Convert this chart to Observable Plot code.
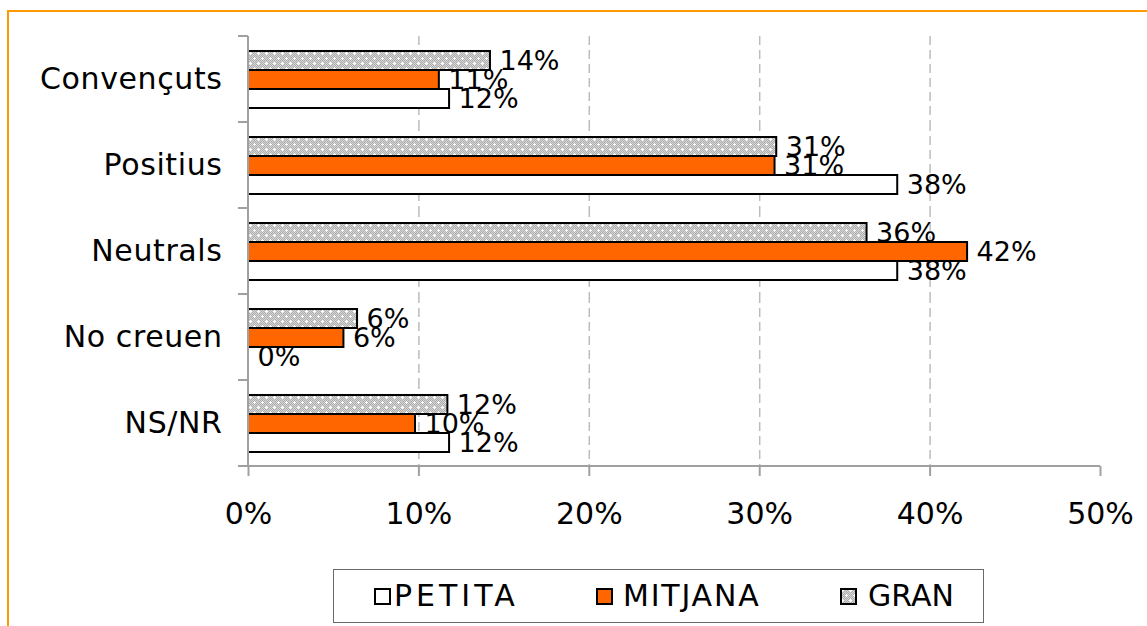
<!DOCTYPE html>
<html>
<head>
<meta charset="utf-8">
<script src="https://cdn.jsdelivr.net/npm/d3@7"></script>
<script src="https://cdn.jsdelivr.net/npm/@observablehq/plot@0.6"></script>
<style>
  html, body { margin: 0; padding: 0; background: #fff; overflow: hidden; width: 1147px; height: 626px; }
  body { position: relative; font-family: "DejaVu Sans", Verdana, sans-serif; }
  #frame { position: absolute; left: 7px; top: 10px; width: 1300px; height: 800px;
           border-left: 2px solid #FF9900; border-top: 2px solid #FF9900; pointer-events: none; z-index: 5; }
  #chart { position: absolute; left: 0; top: 0; }
  #legend { position: absolute; left: 333px; top: 569px; width: 649px; height: 52px;
            border: 1.5px solid #6a6a6a; background: #fff; }
  .item { position: absolute; top: 0; height: 52px; display: flex; align-items: center; }
  .item span { font-size: 30px; color: #000; line-height: 1; }
  .item svg { display: block; margin-right: 4px; }
</style>
</head>
<body>
<div id="frame"></div>
<div id="chart"></div>
<div id="legend"></div>
<script>
// ---- data ----
const categories = ["Convençuts", "Positius", "Neutrals", "No creuen", "NS/NR"];
const series = ["PETITA", "MITJANA", "GRAN"];
const petita  = [11.8, 38.1, 38.1, 0.0, 11.8];
const mitjana = [11.2, 30.9, 42.2, 5.6, 9.8];
const gran    = [14.2, 31.0, 36.3, 6.4, 11.7];
const xTicks = [0, 10, 20, 30, 40, 50];
const gridTicks = [10, 20, 30, 40];

const valuesBySeries = { PETITA: petita, MITJANA: mitjana, GRAN: gran };
const fillOf = { PETITA: "white", MITJANA: "#FF6600", GRAN: "url(#granPattern)" };

const data = [];
categories.forEach((cat, i) => {
  series.forEach(s => data.push({ cat, series: s, value: valuesBySeries[s][i] }));
});

const plot = Plot.plot({
  width: 1147,
  height: 560,
  marginTop: 35,
  marginBottom: 93,
  marginLeft: 248,
  marginRight: 47,
  style: { fontFamily: "DejaVu Sans, Verdana, sans-serif", color: "black", background: "transparent" },
  x: { domain: [0, 50] },
  y: { domain: ["GRAN", "MITJANA", "PETITA"], paddingInner: 0, paddingOuter: 0.72, axis: null },
  fy: { domain: categories, padding: 0 },
  color: { type: "identity" },
  marks: [
    Plot.gridX(gridTicks, { stroke: "#bcbcbc", strokeOpacity: 1, strokeDasharray: "9,5", strokeWidth: 1.5 }),
    Plot.text(data, {
      fy: "cat", y: "series", x: "value",
      text: d => Math.round(d.value) + "%",
      textAnchor: "start", dx: 9, fontSize: 27, fill: "black"
    }),
    Plot.barX(data, {
      fy: "cat", y: "series", x: "value",
      fill: d => fillOf[d.series], stroke: "black", strokeWidth: 2
    }),
    Plot.axisFy({ anchor: "left", tickSize: 0, tickPadding: 26, fontSize: 30, label: null }),
    Plot.axisX({ ticks: xTicks, tickSize: 10, tickPadding: 26, fontSize: 30, stroke: "#a0a0a0",
                 strokeWidth: 2, tickFormat: d => d + "%", label: null })
  ]
});

document.getElementById("chart").appendChild(plot);

// ---- pattern definition ----
function patternMarkup(id) {
  let light = "";
  for (let yy = 0; yy < 10; yy++) for (let xx = 0; xx < 8; xx++)
    if ((xx + yy) % 2 === 0) light += `M${xx} ${yy}h1v1h-1z`;
  return `<pattern id="${id}" width="8" height="10" patternUnits="userSpaceOnUse">
    <rect width="8" height="10" fill="#aeaeae"/>
    <path d="${light}" fill="#d6d6d6"/>
    <path d="M1 2h3v1h-3zM2 1h1v3h-1z M5 7h3v1h-3zM6 6h1v3h-1z" fill="#ffffff"/>
  </pattern>`;
}
const svgSel = d3.select(plot);
svgSel.insert("defs", ":first-child").html(patternMarkup("granPattern"));

// ---- axis lines and category boundary ticks (from the plot's scales) ----
const xs = plot.scale("x");
const x0 = xs.apply(0), x1 = xs.apply(50);
let bounds;
const fys = plot.scale("fy");
if (fys && fys.apply) {
  const starts = categories.map(c => fys.apply(c));
  bounds = starts.concat([starts[starts.length - 1] + fys.bandwidth]);
} else {
  const step = (560 - 93 - 35) / categories.length;
  bounds = d3.range(categories.length + 1).map(i => 35 + i * step);
}
const g = svgSel.append("g").attr("stroke", "#a0a0a0").attr("stroke-width", 2);
g.append("line").attr("x1", x0).attr("x2", x0).attr("y1", bounds[0]).attr("y2", bounds[bounds.length - 1]);
g.append("line").attr("x1", x0 - 10).attr("x2", x1).attr("y1", bounds[bounds.length - 1]).attr("y2", bounds[bounds.length - 1]);
bounds.forEach(b => g.append("line").attr("x1", x0 - 10).attr("x2", x0).attr("y1", b).attr("y2", b));

// letter spacing for category labels
svgSel.selectAll('[aria-label="fy-axis tick label"] text').style("letter-spacing", "0.6px");

// ---- legend ----
const legendPos = { PETITA: [40, 60, "4px"], MITJANA: [262, 289, "1.8px"], GRAN: [506, 534, "0px"] };
const legend = document.getElementById("legend");
legend.innerHTML = `<svg width="0" height="0" style="position:absolute"><defs>${patternMarkup("granPatternL")}</defs></svg>`;
series.forEach(s => {
  const [sx, tx, ls] = legendPos[s];
  const fill = s === "GRAN" ? "url(#granPatternL)" : fillOf[s];
  const sw = document.createElement("div");
  sw.className = "item";
  sw.style.left = sx + "px";
  sw.innerHTML = `<svg width="17" height="17"><rect x="1" y="1" width="15" height="15" fill="${fill}" stroke="black" stroke-width="2"/></svg>`;
  legend.appendChild(sw);
  const tt = document.createElement("div");
  tt.className = "item";
  tt.style.left = tx + "px";
  tt.innerHTML = `<span style="letter-spacing:${ls}">${s}</span>`;
  legend.appendChild(tt);
});
</script>
</body>
</html>
